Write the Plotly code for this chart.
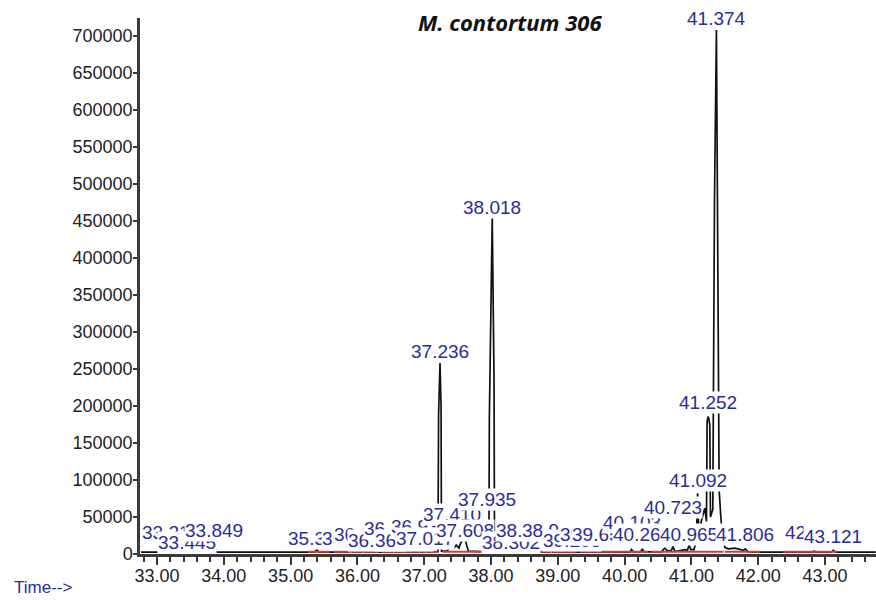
import plotly.graph_objects as go

# ---- total ion chromatogram (retention time in min, abundance) ----
rt = [32.76, 33.18, 33.212, 33.24, 33.42, 33.445, 33.47, 33.82, 33.849, 33.875,
      35.36, 35.393, 35.42, 35.87, 35.902, 35.93, 36.06, 36.085, 36.11, 36.27,
      36.290, 36.31, 36.52, 36.538, 36.56, 36.68, 36.702, 36.72, 36.91, 36.931,
      36.95, 37.00, 37.017, 37.04, 37.205, 37.215, 37.236, 37.252, 37.258, 37.34,
      37.38, 37.410, 37.44, 37.48, 37.52, 37.55, 37.58, 37.608, 37.635, 37.66,
      37.90, 37.935, 37.95, 37.968, 37.975, 38.018, 38.045, 38.052, 38.10, 38.24, 38.262,
      38.28, 38.302, 38.32, 38.49, 38.508, 38.53, 38.88, 38.903, 38.93, 39.19,
      39.208, 39.23, 39.45, 39.465, 39.48, 39.64, 39.653, 39.67, 40.08, 40.103,
      40.13, 40.24, 40.263, 40.29, 40.55, 40.60, 40.65, 40.70, 40.723, 40.75,
      40.80, 40.90, 40.94, 40.965, 40.99, 41.04, 41.075, 41.092, 41.11, 41.15,
      41.20, 41.225, 41.235, 41.252, 41.275, 41.285, 41.32, 41.345, 41.374, 41.40,
      41.415, 41.44, 41.46, 41.50, 41.55, 41.65, 41.72, 41.78, 41.806, 41.85,
      41.95, 42.81, 42.836, 42.86, 43.10, 43.121, 43.15, 43.76]
abundance = [2500, 2500, 4000, 2500, 2500, 4500, 2500, 2500, 6000, 2500,
             2500, 6500, 2500, 2500, 5500, 2500, 2500, 4500, 2500, 2500,
             4000, 2500, 2500, 4000, 2500, 2500, 4500, 2500, 2500, 6500,
             2500, 2500, 5000, 2500, 3000, 189000, 258000, 199000, 4000, 4000,
             9000, 14000, 7000, 12000, 8000, 16000, 20000, 24000, 12000, 4000,
             3000, 20000, 4000, 4000, 185000, 454000, 235000, 4000, 2500, 2500, 3500,
             2500, 3500, 2500, 2500, 3500, 2500, 2500, 5000, 2500, 2500,
             4000, 2500, 2500, 3500, 2500, 2500, 3500, 2500, 2500, 6000,
             3000, 3000, 7000, 3000, 3000, 8000, 4000, 5000, 10000, 4000,
             4000, 6000, 5000, 12000, 6000, 6000, 20000, 82000, 30000, 45000,
             62000, 44000, 180000, 186000, 175000, 50000, 60000, 478000, 708000, 316000,
             86000, 50000, 30000, 9000, 7000, 8000, 6000, 5000, 7000, 3000,
             2500, 2500, 4000, 2500, 2500, 5000, 2500, 2500]

# integration baselines (start, end) in min
baseline_start = [33.12, 33.67, 35.25, 35.65, 36.36, 37.27, 37.92, 38.08, 38.60,
                  39.33, 40.40, 41.50, 42.37]
baseline_end = [33.52, 33.90, 35.58, 36.32, 37.20, 37.88, 38.00, 38.55, 39.28,
                40.35, 41.48, 42.03, 43.18]
baseline_level = 3000

# peak labels (retention time text) and the level each label sits at
peak_labels = ["33.212", "33.445", "33.849", "35.393", "35.902", "36.085", "36.290",
               "36.538", "36.702", "36.931", "37.017", "37.236", "37.410", "37.608",
               "37.935", "38.018", "38.302", "38.508", "38.903", "39.208", "39.465",
               "39.653", "40.103", "40.263", "40.723", "40.965", "41.092", "41.252",
               "41.374", "41.806", "42.836", "43.121"]
label_levels = [28400, 16200, 31100, 20300, 20300, 27000, 17600,
                35100, 18900, 36500, 21600, 273000, 54000, 32400,
                73000, 468900, 16200, 31100, 32400, 17600, 25700,
                25700, 41900, 25700, 62200, 25700, 100000, 204100,
                724300, 25700, 29700, 23000]

x_ticks = [33, 34, 35, 36, 37, 38, 39, 40, 41, 42, 43]
y_ticks = list(range(0, 700001, 50000))

LABEL_BLUE = "#2c2c98"
AXIS_GREY = "#3a3a3a"
FONT = "Liberation Sans"

fig = go.Figure()

fig.add_trace(go.Scatter(
    x=rt, y=abundance, mode="lines",
    line=dict(color="#111111", width=1.7),
    hoverinfo="skip", showlegend=False,
))

for s, e in zip(baseline_start, baseline_end):
    fig.add_trace(go.Scatter(
        x=[s, e], y=[baseline_level, baseline_level], mode="lines",
        line=dict(color="#d03c3c", width=2),
        hoverinfo="skip", showlegend=False,
    ))

for txt, lvl in zip(peak_labels, label_levels):
    fig.add_annotation(
        x=float(txt), y=lvl, xref="x", yref="y", text=txt,
        showarrow=False, xanchor="center", yanchor="middle",
        font=dict(family=FONT, size=19, color=LABEL_BLUE),
        bgcolor="white", borderpad=0,
    )

fig.add_annotation(
    x=0.5027, y=0.9925, xref="paper", yref="paper",
    text="<b><i>M. contortum 306</i></b>", showarrow=False,
    xanchor="center", yanchor="middle",
    font=dict(family="Open Sans", size=22, color="#111111"),
)
fig.add_annotation(
    x=-0.1739, y=-0.0616, xref="paper", yref="paper",
    text="Time-->", showarrow=False, xanchor="left", yanchor="middle",
    font=dict(family=FONT, size=17, color=LABEL_BLUE),
)

fig.update_layout(
    width=876, height=600,
    margin=dict(l=140, r=0, t=18, b=46),
    paper_bgcolor="white", plot_bgcolor="white",
    font=dict(family=FONT, size=18, color="#222222"),
    xaxis=dict(
        range=[32.745, 43.763], tickmode="array", tickvals=x_ticks,
        ticktext=[f"{v:.2f}" for v in x_ticks],
        ticks="outside", ticklen=8, tickwidth=1.5, tickcolor=AXIS_GREY,
        ticklabelstandoff=-4,
        showline=True, linecolor=AXIS_GREY, linewidth=2.5,
        showgrid=False, zeroline=False,
        minor=dict(ticks="outside", dtick=0.2, tick0=33, ticklen=5,
                   tickwidth=1.5, tickcolor=AXIS_GREY, showgrid=False),
    ),
    yaxis=dict(
        range=[0, 724300], tickmode="array", tickvals=y_ticks,
        ticktext=[str(v) for v in y_ticks],
        ticks="outside", ticklen=4, tickwidth=1.5, tickcolor=AXIS_GREY,
        ticklabelstandoff=-3,
        showline=True, linecolor=AXIS_GREY, linewidth=2.5,
        showgrid=False, zeroline=False,
    ),
)

fig.write_html("out.html")
